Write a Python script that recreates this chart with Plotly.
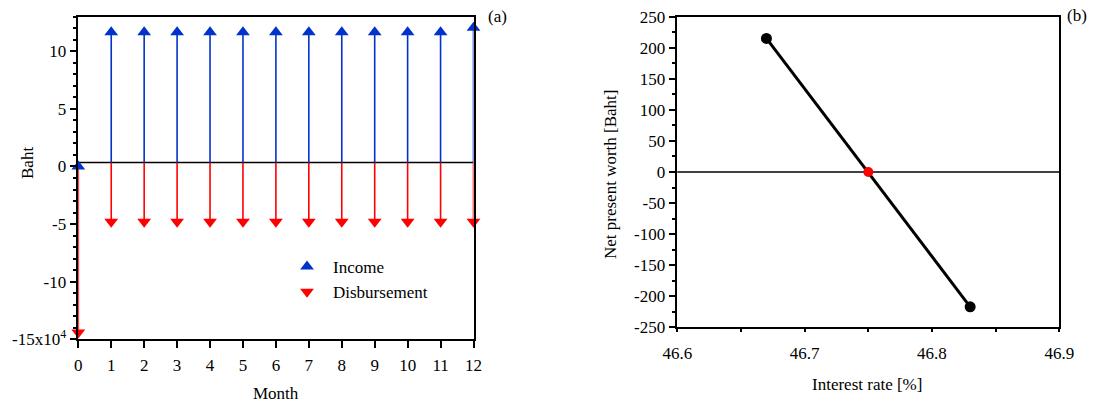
import plotly.graph_objects as go

# ---------------- data ----------------
months = [0, 1, 2, 3, 4, 5, 6, 7, 8, 9, 10, 11, 12]
income = [0.0, 11.65, 11.65, 11.65, 11.65, 11.65, 11.65, 11.65, 11.65, 11.65, 11.65, 11.65, 12.05]
disbursement = [-14.4, -4.8, -4.8, -4.8, -4.8, -4.8, -4.8, -4.8, -4.8, -4.8, -4.8, -4.8, -4.8]
cash_baseline = 0.35  # x10^4 Baht

baht_tick_vals = [-15, -10, -5, 0, 5, 10]
baht_tick_text = ["-15x10<sup>4</sup>", "-10", "-5", "0", "5", "10"]
baht_minor_vals = [-15, -14, -13, -12, -11, -10, -9, -8, -7, -6, -5, -4, -3, -2, -1,
                   0, 1, 2, 3, 4, 5, 6, 7, 8, 9, 10, 11, 12, 13]

rates = [46.67, 46.83]
npw = [215, -217]
irr_rate = [46.75]
irr_npw = [0]

npw_tick_vals = [-250, -200, -150, -100, -50, 0, 50, 100, 150, 200, 250]
npw_tick_text = ["-250", "-200", "-150", "-100", "-50", "0", "50", "100", "150", "200", "250"]
npw_minor_vals = [-250, -225, -200, -175, -150, -125, -100, -75, -50, -25, 0,
                  25, 50, 75, 100, 125, 150, 175, 200, 225, 250]

# ---------------- style ----------------
W, H = 1096, 404
FONT = "Liberation Serif"
FS = 17
BLUE = "#0033CC"
RED = "#FF0000"


def px(x):
    return x / W


def py(y):
    return 1 - y / H


def stems(xs, base, vals):
    sx, sy = [], []
    for x, v in zip(xs, vals):
        sx += [x, x, None]
        sy += [base, v, None]
    return sx, sy


fig = go.Figure()

# left panel: disbursement stems & heads
dx, dy = stems(months, cash_baseline, disbursement)
fig.add_trace(go.Scatter(x=dx, y=dy, mode="lines", line=dict(color=RED, width=1.6),
                         showlegend=False, hoverinfo="skip", xaxis="x", yaxis="y"))
fig.add_trace(go.Scatter(x=months, y=disbursement, mode="markers",
                         marker=dict(symbol="triangle-down", size=12, color=RED),
                         showlegend=False, cliponaxis=False, xaxis="x", yaxis="y"))
# income stems & heads
ix, iy = stems(months, cash_baseline, income)
fig.add_trace(go.Scatter(x=ix, y=iy, mode="lines", line=dict(color=BLUE, width=1.6),
                         showlegend=False, hoverinfo="skip", xaxis="x", yaxis="y"))
fig.add_trace(go.Scatter(x=months, y=income, mode="markers",
                         marker=dict(symbol="triangle-up", size=12, color=BLUE),
                         showlegend=False, cliponaxis=False, xaxis="x", yaxis="y"))
# legend entries
fig.add_trace(go.Scatter(x=[None], y=[None], mode="markers", name="Income",
                         marker=dict(symbol="triangle-up", size=12, color=BLUE),
                         legendgroup="a", xaxis="x", yaxis="y"))
fig.add_trace(go.Scatter(x=[None], y=[None], mode="markers", name="Disbursement",
                         marker=dict(symbol="triangle-down", size=12, color=RED),
                         legendgroup="b", xaxis="x", yaxis="y"))

# right panel
fig.add_trace(go.Scatter(x=rates, y=npw, mode="lines+markers",
                         line=dict(color="black", width=3),
                         marker=dict(symbol="circle", size=11, color="black"),
                         showlegend=False, cliponaxis=False, xaxis="x2", yaxis="y2"))
fig.add_trace(go.Scatter(x=irr_rate, y=irr_npw, mode="markers",
                         marker=dict(symbol="circle", size=10, color=RED),
                         showlegend=False, cliponaxis=False, xaxis="x2", yaxis="y2"))

# domains
xdomA = [px(78.3), px(473.5)]
ydomA = [py(339.3), py(16.7)]
xdomB = [px(677.3), px(1059.3)]
ydomB = [py(327.3), py(16.7)]

tickfont = dict(family=FONT, size=FS, color="black")
axbase = dict(showgrid=False, zeroline=False, linecolor="black", linewidth=1.5,
              tickcolor="black", tickwidth=1.5, tickfont=tickfont, automargin=False)

fig.update_layout(
    width=W, height=H,
    margin=dict(l=0, r=0, t=0, b=0, autoexpand=False),
    paper_bgcolor="white", plot_bgcolor="white",
    font=dict(family=FONT, size=FS, color="black"),
    showlegend=True,
    legend=dict(x=px(281), y=py(249), xanchor="left", yanchor="top",
                bgcolor="rgba(0,0,0,0)", borderwidth=0, tracegroupgap=0,
                itemwidth=42, font=dict(family=FONT, size=FS, color="black")),
    xaxis=dict(axbase, domain=xdomA, range=[0, 12], anchor="y", showline=True, mirror=True,
               tickmode="array", tickvals=months, ticktext=[str(m) for m in months],
               ticks="outside", ticklen=7, ticklabelstandoff=3),
    xaxis3=dict(axbase, overlaying="x", anchor="y", range=[0, 12], showline=False,
                tickmode="array", tickvals=months, showticklabels=False,
                ticks="inside", ticklen=7),
    yaxis=dict(axbase, domain=ydomA, range=[-15, 13], anchor="x", showline=True, mirror=True,
               tickmode="array", tickvals=baht_tick_vals, ticktext=baht_tick_text,
               ticks="outside", ticklen=7,
               minor=dict(tickmode="array", tickvals=baht_minor_vals, ticks="outside",
                          ticklen=4, tickcolor="black", tickwidth=1.5)),
    yaxis3=dict(axbase, overlaying="y", anchor="x", range=[-15, 13], showline=False,
                tickmode="array", tickvals=baht_tick_vals, showticklabels=False,
                ticks="inside", ticklen=7,
                minor=dict(tickmode="array", tickvals=baht_minor_vals, ticks="inside",
                           ticklen=4, tickcolor="black", tickwidth=1.5)),
    xaxis2=dict(axbase, domain=xdomB, range=[46.6, 46.9], anchor="y2", showline=True, mirror=True,
                tickmode="linear", tick0=46.6, dtick=0.1, tickformat=".1f",
                ticks="outside", ticklen=3, ticklabelstandoff=7,
                minor=dict(tick0=46.6, dtick=0.05, ticks="outside", ticklen=3,
                           tickcolor="black", tickwidth=1.5)),
    xaxis4=dict(axbase, overlaying="x2", anchor="y2", range=[46.6, 46.9], showline=False,
                tickmode="linear", tick0=46.6, dtick=0.1, showticklabels=False,
                ticks="inside", ticklen=7,
                minor=dict(tick0=46.6, dtick=0.05, ticks="inside", ticklen=3,
                           tickcolor="black", tickwidth=1.5)),
    yaxis2=dict(axbase, domain=ydomB, range=[-250, 250], anchor="x2", showline=True, mirror=True,
                tickmode="array", tickvals=npw_tick_vals, ticktext=npw_tick_text,
                ticks="outside", ticklen=7,
                minor=dict(tickmode="array", tickvals=npw_minor_vals, ticks="outside",
                           ticklen=4, tickcolor="black", tickwidth=1.5)),
    yaxis4=dict(axbase, overlaying="y2", anchor="x2", range=[-250, 250], showline=False,
                tickmode="array", tickvals=npw_tick_vals, showticklabels=False,
                ticks="inside", ticklen=7,
                minor=dict(tickmode="array", tickvals=npw_minor_vals, ticks="inside",
                           ticklen=4, tickcolor="black", tickwidth=1.5)),
)

# reference lines
fig.add_shape(type="line", xref="x", yref="y", x0=months[0], x1=months[-1],
              y0=cash_baseline, y1=cash_baseline, line=dict(color="black", width=1.5), layer="below")
fig.add_shape(type="line", xref="x2 domain", yref="y2", x0=0, x1=1, y0=0, y1=0,
              line=dict(color="black", width=1.5), layer="below")

# titles & panel labels
ann = [
    dict(text="Baht", x=px(27), y=py(163), textangle=-90),
    dict(text="Month", x=px(276), y=py(393)),
    dict(text="Net present worth [Baht]", x=px(611), y=py(175), textangle=-90),
    dict(text="Interest rate [%]", x=px(867), y=py(384)),
    dict(text="(a)", x=px(497), y=py(16)),
    dict(text="(b)", x=px(1077), y=py(15)),
]
for a in ann:
    fig.add_annotation(xref="paper", yref="paper", showarrow=False,
                       xanchor="center", yanchor="middle",
                       font=dict(family=FONT, size=FS, color="black"), **a)

fig.write_html("out.html", config={"displayModeBar": False},
               post_script="document.body.style.margin='0';document.body.style.overflow='hidden';")
